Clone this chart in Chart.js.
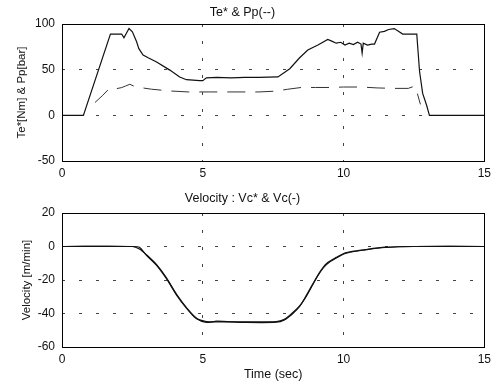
<!DOCTYPE html>
<html>
<head>
<meta charset="utf-8">
<script src="https://cdn.jsdelivr.net/npm/chart.js@4"></script>
<style>
  html, body { margin: 0; padding: 0; background: #fff; }
  #wrap { position: relative; width: 496px; height: 385px; }
  canvas { position: absolute; left: 0; }
  #topChart { top: 0; }
  #botChart { top: 190px; }
</style>
</head>
<body>
<div id="wrap">
  <canvas id="topChart" width="496" height="190"></canvas>
  <canvas id="botChart" width="496" height="195"></canvas>
</div>
<script>
// dados
const teTime = [0, 0.76, 1.72, 2.12, 2.2, 2.38, 2.5, 2.65, 2.73, 2.88, 3.06, 3.36, 3.83, 4.18, 4.42, 4.89, 5.0, 5.13, 5.5, 6.0, 6.5, 7.0, 7.67, 8.09, 8.44, 8.73, 9.09, 9.44, 9.6, 9.74, 9.9, 10.05, 10.2, 10.35, 10.5, 10.62, 10.66, 10.7, 10.85, 11.0, 11.1, 11.28, 11.45, 11.6, 11.8, 11.95, 12.1, 12.6, 12.7, 12.81, 12.95, 13.05, 15];
const teVal = [0, 0, 89, 89, 85, 95, 91.5, 80.5, 73, 66, 63, 58.5, 49.5, 42, 39, 38, 38, 41, 41.5, 41, 41.5, 41.5, 42, 51, 63, 71.5, 77, 83, 81, 79, 80, 77, 79, 77.5, 80, 78, 68, 79, 77, 78, 78, 91, 92, 94, 95, 92, 89, 89, 48, 24, 11, 0, 0];

const ppTime = [1.17, 1.45, 1.70, 1.9, 2.12, 2.25, 2.41, 2.55, 2.65, 3.18, 3.83, 4.48, 5.25, 6.0, 7.0, 7.6, 8.0, 8.5, 9.0, 9.5, 10.0, 10.6, 11.2, 11.8, 12.3, 12.52, 12.62, 12.73];
const ppVal = [14, 22, 30, 29, 30.4, 32, 34, 32, 31, 28.6, 26.7, 25.6, 25.6, 25.6, 25.6, 26.5, 28.5, 30.5, 30.5, 30.5, 31, 31, 30, 29.5, 29.5, 32, 24, 12];

const velTime = [0, 2.5, 2.75, 3.0, 3.36, 3.71, 4.07, 4.42, 4.78, 5.13, 5.5, 6.5, 7.61, 7.9, 8.2, 8.44, 8.68, 8.91, 9.15, 9.39, 9.74, 10.1, 10.78, 11.49, 12.5, 15];
const vcRef = [0, 0, -1.5, -4.9, -10.8, -18.7, -28.6, -36.5, -42.8, -44.8, -45, -45, -44.8, -43.4, -39.4, -35.5, -29.6, -22.7, -15.8, -10.8, -6.9, -4, -2, -0.6, 0, 0];
const vcMeas = [0, 0, -0.5, -5.3, -11.2, -19.2, -29, -36.8, -43.2, -45.3, -44.6, -45.3, -45.2, -43.8, -40, -35.8, -29.2, -22.3, -15.4, -10.2, -6.5, -3.6, -1.8, -0.4, 0, 0];

const xTicks = [0, 5, 10, 15];
const topTicks = [-50, 0, 50, 100];
const botTicks = [-60, -40, -20, 0, 20];

const FONT = "'Liberation Sans', Arial, sans-serif";

function pts(xs, ys) {
  return xs.map((x, i) => ({ x: x, y: ys[i] }));
}

// moldura completa em volta da área do gráfico
const framePlugin = {
  id: "frame",
  afterDraw(chart) {
    const a = chart.chartArea;
    const ctx = chart.ctx;
    ctx.save();
    ctx.strokeStyle = "#000";
    ctx.lineWidth = 1;
    ctx.setLineDash([]);
    ctx.strokeRect(Math.round(a.left) + 0.5, Math.round(a.top) + 0.5,
      Math.round(a.right - a.left), Math.round(a.bottom - a.top));
    ctx.restore();
  }
};

function makeOptions(cfg) {
  return {
    responsive: false,
    animation: false,
    layout: { padding: { left: 0, right: 11, top: 0, bottom: 0 } },
    plugins: {
      legend: { display: false },
      tooltip: { enabled: false },
      title: {
        display: true,
        text: cfg.title,
        color: "#111",
        font: { family: FONT, size: 12.5, weight: "normal" },
        padding: cfg.titlePad
      }
    },
    scales: {
      x: {
        type: "linear",
        min: 0, max: 15,
        afterBuildTicks: (s) => { s.ticks = xTicks.map(v => ({ value: v })); },
        afterFit: (s) => { s.height = cfg.xHeight; },
        grid: { color: "#444", lineWidth: 1, drawTicks: false },
        border: { display: false, dash: [3, 14] },
        ticks: { color: "#111", padding: 5, font: { family: FONT, size: 12 } },
        title: {
          display: !!cfg.xTitle,
          text: cfg.xTitle || "",
          color: "#111",
          font: { family: FONT, size: 12.5 },
          padding: { top: 0, bottom: 3 }
        }
      },
      y: {
        type: "linear",
        min: cfg.yMin, max: cfg.yMax,
        afterBuildTicks: (s) => { s.ticks = cfg.yTicks.map(v => ({ value: v })); },
        afterFit: (s) => { s.width = 62; },
        grid: { color: "#444", lineWidth: 1, drawTicks: false },
        border: { display: false, dash: [3, 14] },
        ticks: { color: "#111", padding: 7, font: { family: FONT, size: 12 } },
        title: {
          display: true,
          text: cfg.yTitle,
          color: "#111",
          font: { family: FONT, size: 11.5 },
          padding: { top: cfg.yTitlePad, bottom: 0 }
        }
      }
    }
  };
}

// gráfico de cima: Te* e Pp
new Chart(document.getElementById("topChart").getContext("2d"), {
  type: "line",
  data: {
    datasets: [
      {
        label: "Te*",
        data: pts(teTime, teVal),
        borderColor: "#111",
        borderWidth: 1.2,
        pointRadius: 0,
        tension: 0
      },
      {
        label: "Pp",
        data: pts(ppTime, ppVal),
        borderColor: "#333",
        borderWidth: 1,
        borderDash: [18, 10],
        pointRadius: 0,
        tension: 0
      }
    ]
  },
  options: makeOptions({
    title: "Te* & Pp(--)",
    titlePad: { top: 5.5, bottom: 3.5 },
    xHeight: 29,
    yMin: -50, yMax: 100,
    yTicks: topTicks,
    yTitle: "Te*[Nm] & Pp[bar]",
    yTitlePad: 15
  }),
  plugins: [framePlugin]
});

// gráfico de baixo: velocidade
new Chart(document.getElementById("botChart").getContext("2d"), {
  type: "line",
  data: {
    datasets: [
      {
        label: "Vc*",
        data: pts(velTime, vcRef),
        borderColor: "#111",
        borderWidth: 1.2,
        pointRadius: 0,
        tension: 0.3
      },
      {
        label: "Vc",
        data: pts(velTime, vcMeas),
        borderColor: "#111",
        borderWidth: 1.2,
        pointRadius: 0,
        tension: 0.3
      }
    ]
  },
  options: makeOptions({
    title: "Velocity : Vc* & Vc(-)",
    titlePad: { top: 1.5, bottom: 6.5 },
    xHeight: 38,
    xTitle: "Time (sec)",
    yMin: -60, yMax: 20,
    yTicks: botTicks,
    yTitle: "Velocity [m/min]",
    yTitlePad: 20
  }),
  plugins: [framePlugin]
});
</script>
</body>
</html>
